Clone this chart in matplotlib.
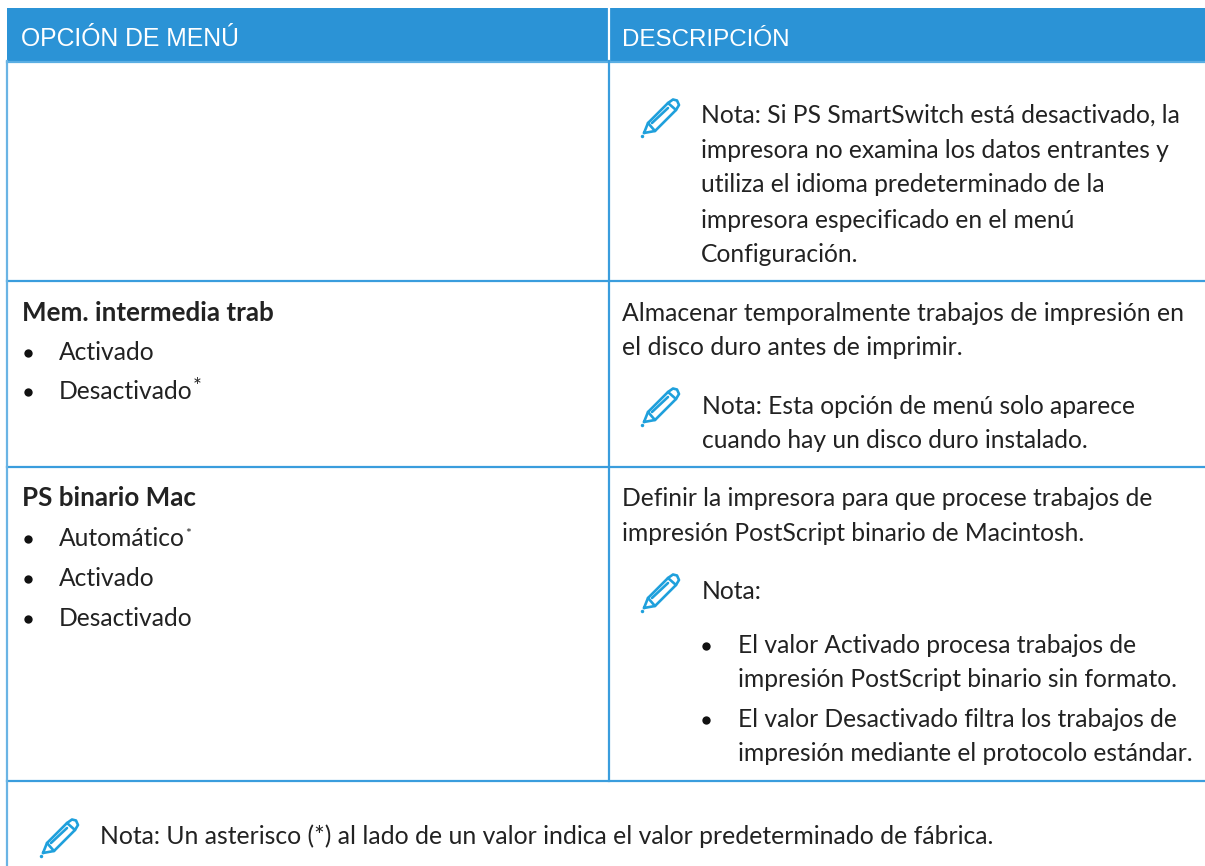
import matplotlib
matplotlib.use("Agg")
import matplotlib.pyplot as plt

W, H = 1205, 866
BLUE = "#2B93D6"
LINE = "#3A9DDD"
LEFT = "#6AB4E4"
ICON = "#1FA0DC"
INK = "#222222"
BODY = ["Lato", "Noto Sans", "DejaVu Sans"]
HEAD = ["Liberation Sans", "DejaVu Sans"]

headers = ["OPCIÓN DE MENÚ", "DESCRIPCIÓN"]
note_top = ["Nota: Si PS SmartSwitch está desactivado, la",
            "impresora no examina los datos entrantes y",
            "utiliza el idioma predeterminado de la",
            "impresora especificado en el menú",
            "Configuración."]
row2_title = "Mem. intermedia trab"
row2_opts = ["Activado", "Desactivado"]
row2_desc = ["Almacenar temporalmente trabajos de impresión en",
             "el disco duro antes de imprimir."]
row2_note = ["Nota: Esta opción de menú solo aparece",
             "cuando hay un disco duro instalado."]
row3_title = "PS binario Mac"
row3_opts = ["Automático", "Activado", "Desactivado"]
row3_desc = ["Definir la impresora para que procese trabajos de",
             "impresión PostScript binario de Macintosh."]
row3_note = "Nota:"
row3_items = [["El valor Activado procesa trabajos de",
               "impresión PostScript binario sin formato."],
              ["El valor Desactivado filtra los trabajos de",
               "impresión mediante el protocolo estándar."]]
footer = "Nota: Un asterisco (*) al lado de un valor indica el valor predeterminado de fábrica."

fig = plt.figure(figsize=(W / 100, H / 100), dpi=100)
ax = fig.add_axes([0, 0, 1, 1])
ax.set_xlim(0, W)
ax.set_ylim(H, 0)
ax.axis("off")

FS = 17.7

def put(x, y, s, **kw):
    kw.setdefault("fontsize", FS)
    kw.setdefault("color", INK)
    kw.setdefault("family", BODY)
    return ax.text(x, y, s, va="baseline", ha="left", **kw)

def star(t, dy, size):
    r = fig.canvas.get_renderer()
    bb = t.get_window_extent(r)
    ax.text(bb.x1 + 0.5, t.get_position()[1] + dy, "*", fontsize=size, color=INK,
            family=BODY, va="baseline", ha="left")

def bullet(x, y):
    ax.plot([x], [y], "o", ms=6, color="#111111", mew=0)

def pencil(x, y, s=1.0):
    outline = [(3, 34), (7, 24), (27, 4), (32, 0.5), (36, 1.5), (38, 6), (35, 11), (14, 32), (3, 34)]
    paths = [outline, [(7, 24), (14, 32)], [(27, 4), (35, 11)], [(11, 24), (27, 9)]]
    for path in paths:
        ax.plot([x + p[0] * s for p in path], [y + p[1] * s for p in path],
                color=ICON, lw=1.9, solid_joinstyle="round", solid_capstyle="round")
    ax.plot([x + 1 * s], [y + 37 * s], "o", ms=2.5, color=ICON, mew=0)

# table frame
ax.fill_between([6.5, W], 8, 61, color=BLUE, lw=0)
ax.plot([609, 609], [8, 60], color="white", lw=1.6)
ax.plot([6.5, W], [61.5, 61.5], color="#5AAEE3", lw=1.6)
for yy in (281, 466.5, 781):
    ax.plot([6.5, W], [yy, yy], color=LINE, lw=1.6)
ax.plot([7, 7], [61, H], color=LEFT, lw=1.6)
ax.plot([609, 609], [61, 781], color=LINE, lw=1.6)

# headers
ax.text(21, 46.5, headers[0], fontsize=17.8, color="white", family=HEAD, va="baseline")
ax.text(622.5, 46.5, headers[1], fontsize=17.4, color="white", family=HEAD, va="baseline")

# row 1
pencil(641, 99)
for y, s in zip([123, 157.5, 192.5, 227.5, 262], note_top):
    put(701, y, s)

# row 2
put(21.5, 321, row2_title, fontweight="bold", fontsize=18.7)
for y, s in zip([360, 399], row2_opts):
    bullet(27.5, y - 7)
    t = put(59, y, s)
    if s == "Desactivado":
        star(t, -6, 15)
for y, s in zip([321, 355], row2_desc):
    put(622.5, y, s, fontsize=17.85)
pencil(641, 388)
for y, s in zip([414, 448], row2_note):
    put(701.5, y, s)

# row 3
put(21.5, 506, row3_title, fontweight="bold", fontsize=18.7)
for y, s in zip([545.5, 585.5, 625.5], row3_opts):
    bullet(27.5, y - 7)
    t = put(59, y, s)
    if s == "Automático":
        star(t, -8, 10)
for y, s in zip([506, 541], row3_desc):
    put(622.5, y, s)
pencil(641, 574)
put(701.5, 599, row3_note)
for ys, item in zip([[653, 687], [727, 761]], row3_items):
    bullet(705.5, ys[0] - 7)
    for y, s in zip(ys, item):
        put(738, y, s)

# footer
pencil(40, 819)
put(100, 844, footer, fontsize=17.8)

fig.savefig("out.png", dpi=100)
